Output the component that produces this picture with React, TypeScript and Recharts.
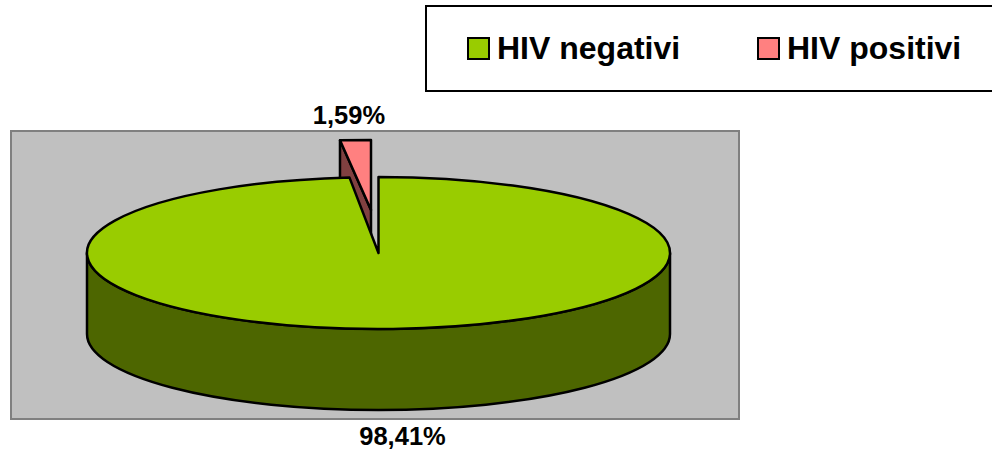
import { PieChart, Pie, Legend } from 'recharts'

// drawn order: the exploded slice goes behind the big one
const names = ['HIV positivi', 'HIV negativi']
const values = [1.59, 98.41]
const topColors = ['#FF8080', '#99CC00']
const sideColors = ['#804040', '#4D6600']
const legendOrder = ['HIV negativi', 'HIV positivi']

const data = names.map((name, i) => ({ name, value: values[i], fill: topColors[i] }))

const CX = 378.5
const CY = 253
const RX = 291.5
const RY = 76
const DEPTH = 81
const TILT = RY / RX
const LINE = 2.5
const FONT = '"Liberation Sans", Arial, sans-serif'
const RAD = Math.PI / 180
const FIRST_ANGLE = 90 + (values[0] / 100) * 180

function SliceShape(props: any) {
  const { cx, cy, outerRadius, startAngle, endAngle, name } = props
  const i = names.indexOf(name)
  const at = (ox: number, oy: number, rx: number, ry: number, a: number) => [
    ox + rx * Math.cos(a * RAD),
    oy - ry * Math.sin(a * RAD),
  ]

  if (i === 0) {
    // exploded slice, pulled up and slightly left
    const ox = cx - 7.5
    const oy = cy - 43
    const rx = 311
    const ry = 70
    const [x1, y1] = at(ox, oy, rx, ry, startAngle)
    const [x2, y2] = at(ox, oy, rx, ry, endAngle)
    return (
      <g stroke="#000" strokeWidth={LINE} strokeLinejoin="round">
        <path
          d={`M${x1},${y1} L${ox},${oy} L${ox},${oy + DEPTH} L${x1},${y1 + DEPTH} Z`}
          fill={sideColors[i]}
        />
        <path
          d={`M${ox},${oy} L${x1},${y1} A${rx},${ry} 0 0 1 ${x2},${y2} Z`}
          fill={topColors[i]}
        />
      </g>
    )
  }

  const rx = outerRadius
  const ry = outerRadius * TILT
  const [x1, y1] = at(cx, cy, rx, ry, startAngle)
  const [x2, y2] = at(cx, cy, rx, ry, endAngle)
  return (
    <g stroke="#000" strokeWidth={LINE} strokeLinejoin="round">
      <path
        d={`M${cx + rx},${cy} L${cx + rx},${cy + DEPTH} A${rx},${ry} 0 0 1 ${cx - rx},${cy + DEPTH} L${cx - rx},${cy} A${rx},${ry} 0 0 0 ${cx + rx},${cy} Z`}
        fill={sideColors[i]}
      />
      <path
        d={`M${cx},${cy} L${x1},${y1} A${rx},${ry} 0 1 1 ${x2},${y2} Z`}
        fill={topColors[i]}
      />
    </g>
  )
}

function sliceLabel(props: any) {
  const small = props.name === names[0]
  return (
    <text
      x={small ? 349 : 402.5}
      y={small ? 124 : 445}
      textAnchor="middle"
      fontFamily={FONT}
      fontWeight="bold"
      fontSize={25.5}
      fill="#000"
    >
      {props.value.toFixed(2).replace('.', ',') + '%'}
    </text>
  )
}

function LegendBox() {
  const offsets = [42, 332]
  return (
    <div
      style={{
        position: 'relative',
        width: 570,
        height: 87,
        boxSizing: 'border-box',
        border: '2px solid #000',
        background: '#fff',
      }}
    >
      {legendOrder.map((name, k) => (
        <div
          key={name}
          style={{
            position: 'absolute',
            left: offsets[k] - 2,
            top: 24,
            height: 34,
            display: 'flex',
            alignItems: 'center',
            fontFamily: FONT,
            fontWeight: 'bold',
            fontSize: 32,
            color: '#000',
            whiteSpace: 'nowrap',
          }}
        >
          <span
            style={{
              display: 'inline-block',
              width: 23,
              height: 23,
              boxSizing: 'border-box',
              border: '2.5px solid #000',
              marginRight: 7,
              background: topColors[names.indexOf(name)],
            }}
          />
          {name}
        </div>
      ))}
    </div>
  )
}

export default function App() {
  return (
    <div style={{ position: 'absolute', left: 0, top: 0, width: 992, height: 451, overflow: 'hidden', background: '#fff' }}>
      <div
        style={{
          position: 'absolute',
          left: 10,
          top: 130,
          width: 730,
          height: 290,
          boxSizing: 'border-box',
          background: '#C0C0C0',
          border: '2px solid #808080',
        }}
      />
      <div style={{ position: 'absolute', left: 0, top: 0 }}>
        <PieChart width={992} height={451} margin={{ top: 0, right: 0, bottom: 0, left: 0 }}>
          <Legend content={<LegendBox />} wrapperStyle={{ position: 'absolute', left: 425, top: 5, width: 570, height: 87 }} />
          <Pie
            data={data}
            dataKey="value"
            nameKey="name"
            cx={CX}
            cy={CY}
            innerRadius={0}
            outerRadius={RX}
            startAngle={FIRST_ANGLE + (values[0] / 100) * 180}
            endAngle={FIRST_ANGLE + (values[0] / 100) * 180 - 360}
            paddingAngle={0}
            shape={SliceShape}
            label={sliceLabel}
            labelLine={false}
            isAnimationActive={false}
          />
        </PieChart>
      </div>
    </div>
  )
}
